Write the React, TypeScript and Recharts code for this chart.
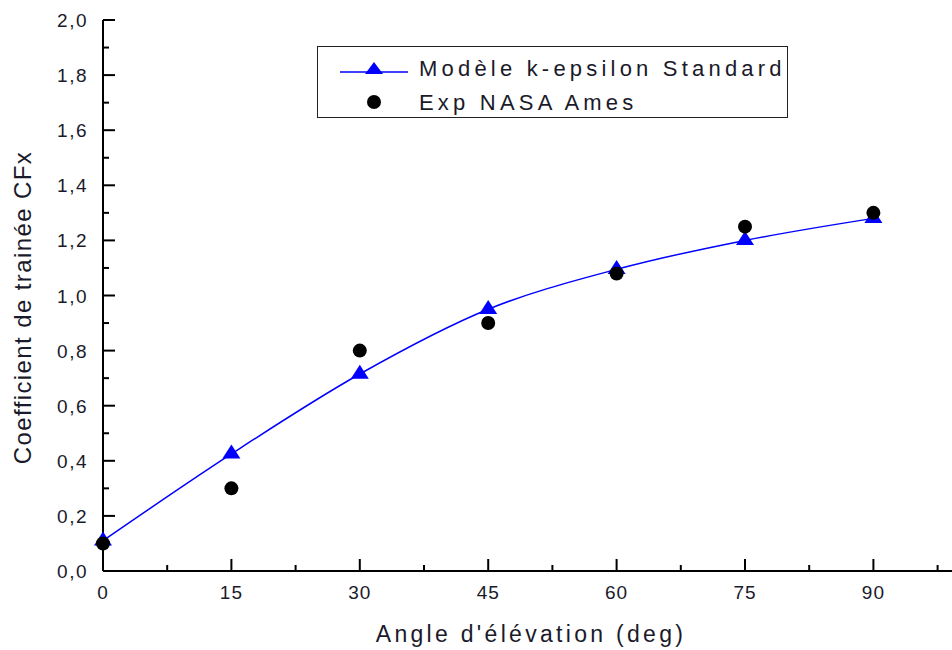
import { ComposedChart, Line, XAxis, YAxis } from "recharts";

const angles = [0, 15, 30, 45, 60, 75, 90];
const kEpsilon = [0.11, 0.425, 0.715, 0.95, 1.095, 1.2, 1.28];
const nasaAmes = [0.1, 0.3, 0.8, 0.9, 1.08, 1.25, 1.3];

const xTicks = [0, 7.5, 15, 22.5, 30, 37.5, 45, 52.5, 60, 67.5, 75, 82.5, 90, 97.5];
const xLabels = [0, 15, 30, 45, 60, 75, 90];
const yTicks = [
  0, 0.1, 0.2, 0.3, 0.4, 0.5, 0.6, 0.7, 0.8, 0.9, 1.0, 1.1, 1.2, 1.3, 1.4, 1.5,
  1.6, 1.7, 1.8, 1.9, 2.0,
];

const data = angles.map((a, i) => ({ angle: a, model: kEpsilon[i], exp: nasaAmes[i] }));

const FONT = '"Liberation Sans", Arial, sans-serif';
const TXT = "#1a1a2a";
const MAJOR = 12;
const MINOR = 6;

const isMajorY = (v: number) => Math.round(v * 10) % 2 === 0;
const fmtY = (v: number) => v.toFixed(1).replace(".", ",");

// tick drawn by hand so marks point into the plot
const BottomTick = (p: any) => {
  const v = p.payload.value;
  const major = xLabels.includes(v);
  return (
    <g>
      <line x1={p.x} x2={p.x} y1={p.y} y2={p.y - (major ? MAJOR : MINOR)} stroke="#000" strokeWidth={2} />
      {major && (
        <text x={p.x} y={p.y + 28} textAnchor="middle" fontSize={19} fontFamily={FONT} fill={TXT} letterSpacing={1}>
          {v}
        </text>
      )}
    </g>
  );
};

const TopTick = (p: any) => {
  const major = xLabels.includes(p.payload.value);
  return <line x1={p.x} x2={p.x} y1={p.y} y2={p.y + (major ? MAJOR : MINOR)} stroke="#000" strokeWidth={2} />;
};

const LeftTick = (p: any) => {
  const v = p.payload.value;
  const major = isMajorY(v);
  return (
    <g>
      <line x1={p.x} x2={p.x + (major ? MAJOR : MINOR)} y1={p.y} y2={p.y} stroke="#000" strokeWidth={2} />
      {major && (
        <text x={p.x - 15} y={p.y + 7} textAnchor="end" fontSize={19} fontFamily={FONT} fill={TXT} letterSpacing={1.5}>
          {fmtY(v)}
        </text>
      )}
    </g>
  );
};

const RightTick = (p: any) => {
  const major = isMajorY(p.payload.value);
  return <line x1={p.x} x2={p.x - (major ? MAJOR : MINOR)} y1={p.y} y2={p.y} stroke="#000" strokeWidth={2} />;
};

const Triangle = (p: any) => {
  const { cx, cy } = p;
  if (cx == null || cy == null) return <g key={p.index} />;
  return (
    <polygon
      key={p.index}
      points={`${cx},${cy - 9.3} ${cx - 9},${cy + 4.7} ${cx + 9},${cy + 4.7}`}
      fill="#0000ff"
    />
  );
};

const Legend = () => (
  <div
    style={{
      position: "absolute",
      left: 317,
      top: 46,
      width: 471,
      height: 72,
      border: "1px solid #222",
      boxSizing: "border-box",
      background: "#fff",
      fontFamily: FONT,
      fontSize: 22,
      letterSpacing: 4.2,
      color: TXT,
      whiteSpace: "nowrap",
    }}
  >
    <svg width={471} height={72} style={{ position: "absolute", left: -1, top: -1 }}>
      <line x1={23} x2={91} y1={26} y2={26} stroke="#0000ff" strokeWidth={1.5} />
      <polygon points="57,16 48,28 66,28" fill="#0000ff" />
      <circle cx={57} cy={56} r={7} fill="#000" />
    </svg>
    <div style={{ position: "absolute", left: 101, top: 9 }}>Modèle k-epsilon Standard</div>
    <div style={{ position: "absolute", left: 101, top: 43 }}>Exp NASA Ames</div>
  </div>
);

export default function App() {
  return (
    <div style={{ position: "fixed", left: 0, top: 0, width: 952, height: 650, overflow: "hidden", background: "#fff" }}>
      <ComposedChart width={975} height={650} data={data} margin={{ top: 20, right: 16, bottom: 0, left: 0 }}>
        <XAxis
          xAxisId="b"
          dataKey="angle"
          type="number"
          domain={[0, 100]}
          ticks={xTicks}
          interval={0}
          height={79}
          tickSize={0}
          tickMargin={0}
          tickLine={false}
          tick={<BottomTick />}
          axisLine={{ stroke: "#000", strokeWidth: 2 }}
          label={{
            value: "Angle d'élévation (deg)",
            position: "insideBottom",
            offset: 8,
            style: { fontSize: 23, fontFamily: FONT, fill: TXT, letterSpacing: 3.3 },
          }}
        />
        <XAxis
          xAxisId="t"
          orientation="top"
          dataKey="angle"
          type="number"
          domain={[0, 100]}
          ticks={xTicks}
          interval={0}
          height={0}
          tickSize={0}
          tickMargin={0}
          tickLine={false}
          tick={<TopTick />}
          axisLine={{ stroke: "#000", strokeWidth: 2 }}
        />
        <YAxis
          yAxisId="l"
          type="number"
          domain={[0, 2]}
          ticks={yTicks}
          interval={0}
          width={103}
          tickSize={0}
          tickMargin={0}
          tickLine={false}
          tick={<LeftTick />}
          axisLine={{ stroke: "#000", strokeWidth: 2 }}
          label={{
            value: "Coefficient de trainée CFx",
            angle: -90,
            position: "insideLeft",
            offset: 22,
            dy: 12,
            style: { textAnchor: "middle", fontSize: 24, fontFamily: FONT, fill: TXT, letterSpacing: 1.4 },
          }}
        />
        <YAxis
          yAxisId="r"
          orientation="right"
          type="number"
          domain={[0, 2]}
          ticks={yTicks}
          interval={0}
          width={0}
          tickSize={0}
          tickMargin={0}
          tickLine={false}
          tick={<RightTick />}
          axisLine={{ stroke: "#000", strokeWidth: 2 }}
        />
        <Line
          xAxisId="b"
          yAxisId="l"
          dataKey="model"
          type="monotone"
          stroke="#0000ff"
          strokeWidth={1.5}
          dot={Triangle}
          activeDot={false}
          isAnimationActive={false}
        />
        <Line
          xAxisId="b"
          yAxisId="l"
          dataKey="exp"
          stroke="none"
          dot={{ r: 7, fill: "#000", stroke: "none" }}
          activeDot={false}
          isAnimationActive={false}
        />
      </ComposedChart>
      <Legend />
    </div>
  );
}
